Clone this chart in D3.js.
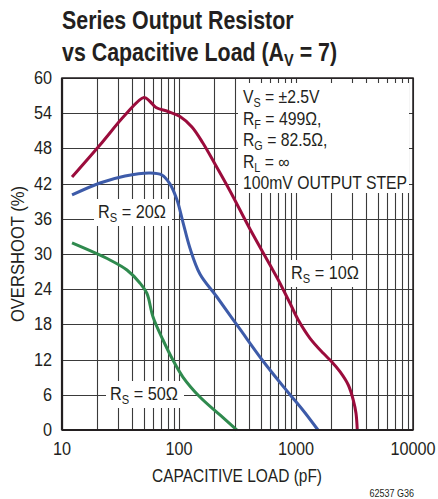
<!DOCTYPE html>
<html><head><meta charset="utf-8">
<script src="https://cdn.jsdelivr.net/npm/d3@7"></script>
<style>
body{margin:0;background:#fff;}
svg{display:block;}
text{font-family:"Liberation Sans",Arial,sans-serif;fill:#231f20;}
</style></head>
<body>
<svg id="chart" width="438" height="499"></svg>
<script>
// ---- data ----
const xTicks = [10, 100, 1000, 10000];
const yTicks = [0, 6, 12, 18, 24, 30, 36, 42, 48, 54, 60];
const rs10X = [12.18, 21.1, 34.6, 50.2, 56.5, 63.6, 80.5, 102, 129, 160, 203, 273, 404, 600, 706, 889, 1046, 1318, 1712, 2019, 2377, 2799, 3088, 3257, 3340];
const rs10Y = [43.12, 48.58, 53.69, 56.68, 55.99, 54.97, 54.29, 53.44, 51.65, 48.92, 45.34, 40.74, 34.26, 28.12, 25.57, 21.6, 18.75, 15.63, 13.07, 11.64, 9.94, 7.67, 5.11, 2.85, 0];
const rs20X = [12.18, 21.1, 34.6, 56.5, 71.4, 83.6, 96.2, 108, 124, 151, 211, 331, 522, 837, 1143, 1542];
const rs20Y = [40.06, 42.10, 43.30, 43.81, 43.47, 41.95, 39.20, 35.45, 31.02, 26.59, 22.67, 17.22, 11.76, 6.65, 3.41, 0];
const rs50X = [12.18, 25.7, 35.9, 46.3, 53.2, 60.0, 73.0, 88.7, 108, 151, 224, 313];
const rs50Y = [31.88, 28.98, 27.27, 25.06, 23.27, 19.26, 15.34, 11.93, 9.03, 5.62, 2.56, 0];
const seriesNames = ["10", "20", "50"];
const seriesColors = ["#9b0c3c", "#3d5ba9", "#2f8a4e"];
const conditions = [["V","S"," = ±2.5V"],["R","F"," = 499Ω,"],["R","G"," = 82.5Ω,"],["R","L"," = ∞"],["100mV OUTPUT STEP","",""]];

const svg = d3.select("#chart");
const x = d3.scaleLog().domain([10, 10000]).range([62, 413]);
const y = d3.scaleLinear().domain([0, 60]).range([430, 78]);

function txt(parent, px, py, sx, size, rot) {
  return parent.append("text")
    .attr("transform", `translate(${px},${py})` + (rot ? ` rotate(${rot})` : "") + ` scale(${sx},1)`)
    .attr("font-size", size);
}

// title
const title = svg.append("g").attr("font-weight", "bold");
txt(title, 62, 29, 0.855, 25).text("Series Output Resistor");
const t2 = txt(title, 62, 61, 0.855, 25);
t2.append("tspan").text("vs Capacitive Load (A");
t2.append("tspan").attr("font-size", 17).attr("dy", 5).text("V");
t2.append("tspan").attr("dy", -5).text(" = 7)");

// grid
const minor = [];
for (let d = 10; d < 10000; d *= 10) for (let k = 1; k <= 9; k++) minor.push(d * k);
minor.push(10000);
const grid = svg.append("g").attr("stroke", "#3a3a3a").attr("stroke-width", 1.1);
grid.selectAll("line.v").data(minor).join("line")
  .attr("x1", d => Math.round(x(d)) + 0.5).attr("x2", d => Math.round(x(d)) + 0.5)
  .attr("y1", y(0)).attr("y2", y(60));
grid.selectAll("line.h").data(yTicks).join("line")
  .attr("x1", x(10)).attr("x2", x(10000))
  .attr("y1", d => Math.round(y(d)) + 0.5).attr("y2", d => Math.round(y(d)) + 0.5);

// conditions box
svg.append("rect").attr("x", 238).attr("y", 83).attr("width", 171).attr("height", 110).attr("fill", "#fff");
const cond = svg.append("g");
conditions.forEach((c, i) => {
  const t = txt(cond, 243, 103 + i * 21.5, 0.9, 17.5);
  t.append("tspan").text(c[0]);
  if (c[1]) {
    t.append("tspan").attr("font-size", 12).attr("dy", 4).text(c[1]);
    t.append("tspan").attr("dy", -4).text(c[2]);
  }
});

// curves
const line = d3.line().x(d => x(d[0])).y(d => y(d[1])).curve(d3.curveCatmullRom.alpha(0.5));
const seriesData = [rs10X.map((v, i) => [v, rs10Y[i]]), rs20X.map((v, i) => [v, rs20Y[i]]), rs50X.map((v, i) => [v, rs50Y[i]])];
svg.append("g").selectAll("path").data(seriesData).join("path")
  .attr("d", line).attr("fill", "none")
  .attr("stroke", (d, i) => seriesColors[i]).attr("stroke-width", 3).attr("stroke-linejoin", "round");

// frame
svg.append("rect").attr("x", x(10)).attr("y", y(60)).attr("width", x(10000) - x(10)).attr("height", y(0) - y(60))
  .attr("fill", "none").attr("stroke", "#231f20").attr("stroke-width", 1.5);
svg.append("line").attr("x1", x(10)).attr("x2", x(10)).attr("y1", y(60)).attr("y2", y(0)).attr("stroke", "#231f20").attr("stroke-width", 2.2);
svg.append("line").attr("x1", x(10)).attr("x2", x(10000)).attr("y1", y(0)).attr("y2", y(0)).attr("stroke", "#231f20").attr("stroke-width", 2.2);

// series labels
const labelPos = [[291, 279], [98, 218], [110, 400]];
seriesNames.forEach((n, i) => {
  const g = svg.append("g");
  g.append("rect").attr("x", labelPos[i][0] - 4).attr("y", labelPos[i][1] - 19).attr("width", 78).attr("height", 27).attr("fill", "#fff");
  const t = txt(g, labelPos[i][0], labelPos[i][1], 0.93, 17.5);
  t.append("tspan").text("R");
  t.append("tspan").attr("font-size", 12).attr("dy", 4).text("S");
  t.append("tspan").attr("dy", -4).text(" = " + n + "Ω");
});

// axes
const yAxis = svg.append("g").attr("text-anchor", "end");
yTicks.forEach(d => txt(yAxis, 52, y(d) + 6, 0.93, 17.5).text(d));
const xAxis = svg.append("g").attr("text-anchor", "middle");
xTicks.forEach(d => txt(xAxis, x(d), 455, 0.93, 17.5).text(d));

txt(svg, 237, 482, 0.885, 17.5).attr("text-anchor", "middle").text("CAPACITIVE LOAD (pF)");
txt(svg, 24, 254, 0.95, 17.5, -90).attr("text-anchor", "middle").text("OVERSHOOT (%)");
txt(svg, 414, 497, 0.9, 10).attr("text-anchor", "end").text("62537 G36");
</script>
</body></html>
